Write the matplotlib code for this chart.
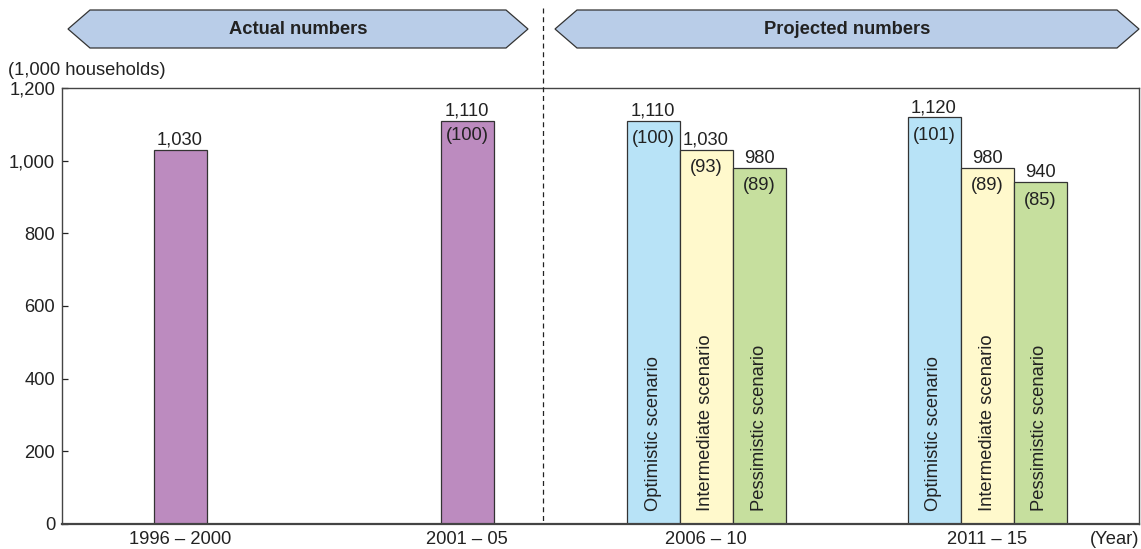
import matplotlib
matplotlib.use("Agg")
import matplotlib.pyplot as plt
from matplotlib.patches import Polygon
from matplotlib.lines import Line2D
from matplotlib.ticker import FuncFormatter

# data
periods = ["1996 – 2000", "2001 – 05", "2006 – 10", "2011 – 15"]
actual_values = [1030, 1110]
actual_index = [None, 100]
scenarios = ["Optimistic scenario", "Intermediate scenario", "Pessimistic scenario"]
optimistic = [1110, 1120]
intermediate = [1030, 980]
pessimistic = [980, 940]
optimistic_index = [100, 101]
intermediate_index = [93, 89]
pessimistic_index = [89, 85]

W, H = 1141, 549
plt.rcParams["font.family"] = ["Liberation Sans", "DejaVu Sans"]

fig = plt.figure(figsize=(W / 100, H / 100), dpi=100)
ax = fig.add_axes([62 / W, (H - 524) / H, (1139 - 62) / W, (524 - 88) / H])

centers = [118, 405, 644, 925]
bw = 53
purple = "#bc8bbf"
scen_colors = ["#b8e3f7", "#fff9cc", "#c6df9e"]
edge = "#333333"
tc = "#222222"
fs = 13.2


def px_to_units(px):
    return px * 1200 / (524 - 88)


# actual bars
for c, v, idx in zip(centers[:2], actual_values, actual_index):
    ax.bar(c, v, bw, color=purple, edgecolor=edge, linewidth=0.9, zorder=2)
    ax.text(c, v + px_to_units(1), f"{v:,}", ha="center", va="bottom", fontsize=fs, color=tc)
    if idx is not None:
        ax.text(c, v - px_to_units(15), f"({idx})", ha="center", va="center", fontsize=fs, color=tc)

# projected bars
proj = [optimistic, intermediate, pessimistic]
proj_idx = [optimistic_index, intermediate_index, pessimistic_index]
for g, c in enumerate(centers[2:]):
    for k in range(3):
        x = c + (k - 1) * bw
        v = proj[k][g]
        ax.bar(x, v, bw, color=scen_colors[k], edgecolor=edge, linewidth=0.9, zorder=2)
        ax.text(x, v + px_to_units(1), f"{v:,}", ha="center", va="bottom", fontsize=fs, color=tc)
        ax.text(x, v - px_to_units(18), f"({proj_idx[k][g]})", ha="center", va="center", fontsize=fs, color=tc)
        ax.text(x, px_to_units(13), scenarios[k], rotation=90, ha="center", va="bottom",
                fontsize=fs, color=tc)

ax.set_xlim(0, 1077)
ax.set_ylim(0, 1200)
ax.set_yticks(range(0, 1201, 200))
ax.yaxis.set_major_formatter(FuncFormatter(lambda v, p: f"{int(v):,}"))
ax.set_xticks(centers)
ax.set_xticklabels(periods)
ax.tick_params(axis="x", length=0, labelsize=fs, colors=tc, pad=5)
ax.tick_params(axis="y", direction="in", length=4, width=0.9, labelsize=fs, colors=tc, pad=5)
for s in ax.spines.values():
    s.set_color("#444444")
    s.set_linewidth(1.0)
ax.spines["bottom"].set_linewidth(1.6)

fig.text(8 / W, 1 - 70 / H, "(1,000 households)", ha="left", va="center", fontsize=fs, color=tc)
fig.text(1139 / W, 1 - 539 / H, "(Year)", ha="right", va="center", fontsize=fs, color=tc)

# dashed divider
fig.add_artist(Line2D([543 / W, 543 / W], [1 - 8 / H, 1 - 524 / H], color=tc,
                      linewidth=0.9, linestyle=(0, (4, 3))))


# banners
def banner(x0, x1, label):
    ytop, ybot = 10, 48
    ymid = (ytop + ybot) / 2
    d = 22
    pts = [(x0, ymid), (x0 + d, ytop), (x1 - d, ytop), (x1, ymid), (x1 - d, ybot), (x0 + d, ybot)]
    pts = [(px / W, 1 - py / H) for px, py in pts]
    fig.add_artist(Polygon(pts, closed=True, facecolor="#b9cde8", edgecolor="#333333",
                           linewidth=0.9, transform=fig.transFigure))
    fig.text((x0 + x1) / 2 / W, 1 - ymid / H, label, ha="center", va="center",
             fontsize=fs, fontweight="bold", color=tc)


banner(68, 528, "Actual numbers")
banner(555, 1139, "Projected numbers")

fig.savefig("out.png", dpi=100)
